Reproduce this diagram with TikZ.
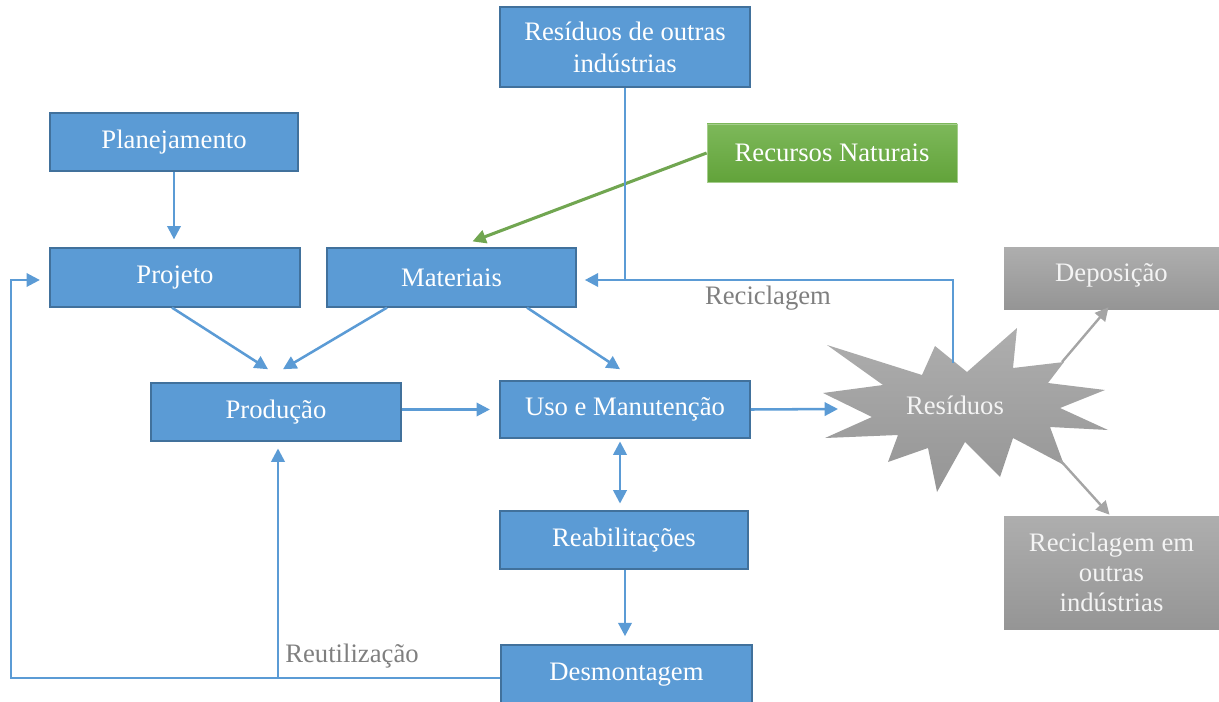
\documentclass[tikz,border=0pt]{standalone}
\usepackage{fontspec}
\setmainfont{Liberation Serif}
\usetikzlibrary{arrows.meta,calc}
\definecolor{bfill}{HTML}{5B9BD5}
\definecolor{bdraw}{HTML}{41719C}
\definecolor{gtop}{HTML}{7DB85A}
\definecolor{gbot}{HTML}{62A33A}
\definecolor{gytop}{HTML}{AEAEAE}
\definecolor{gybot}{HTML}{959595}
\definecolor{gyline}{HTML}{A5A5A5}
\definecolor{lbl}{HTML}{7F7F7F}
\definecolor{wtxt}{HTML}{F4F4F4}
\begin{document}
\begin{tikzpicture}[x=0.75pt,y=-0.75pt,
  txt/.style={font=\fontsize{20}{24}\selectfont, align=center},
  bluebox/.style={txt, fill=bfill, draw=bdraw, line width=1.2pt, text=white, inner sep=0pt},
  greenbox/.style={txt, top color=gtop, bottom color=gbot, draw=gtop!70!white, line width=0.6pt, text=white, inner sep=0pt},
  graybox/.style={txt, top color=gytop, bottom color=gybot, text=wtxt, inner sep=0pt},
  conn/.style={draw=bfill, line width=1.9pt, -{Triangle[length=10pt,width=10pt]}},
  gconn/.style={draw=gtop!90!black, line width=2.3pt, -{Triangle[length=10pt,width=10pt]}},
  yconn/.style={draw=gyline, line width=1.8pt, -{Triangle[length=10pt,width=10pt]}},
  lab/.style={font=\fontsize{20}{24}\selectfont, text=lbl, inner sep=0pt}
]
\useasboundingbox (0,0) rectangle (1219,702);
\clip (0,0) rectangle (1219,702);

% nodes
\node[bluebox, minimum width=187.5pt, minimum height=60pt] (rdo) at (625,47) {Resíduos de outras\\indústrias};
\node[bluebox, minimum width=186pt, minimum height=43.5pt] (plan) at (174,142) {Planejamento};
\node[greenbox, minimum width=187.5pt, minimum height=43.5pt] (rec) at (832,153) {Recursos Naturais};
\node[bluebox, minimum width=187.5pt, minimum height=44pt] (proj) at (175,277.5) {Projeto};
\node[bluebox, minimum width=186.75pt, minimum height=44pt] (mat) at (451.5,277.5) {Materiais};
\node[graybox, minimum width=161.25pt, minimum height=46.5pt, text depth=8pt] (dep) at (1111.5,278) {Deposição};
\node[bluebox, minimum width=187.5pt, minimum height=43.5pt] (prod) at (276,412) {Produção};
\node[bluebox, minimum width=187.5pt, minimum height=42.75pt] (uso) at (625,409.5) {Uso e Manutenção};
\node[bluebox, minimum width=186pt, minimum height=43.5pt] (reab) at (624,540) {Reabilitações};
\node[graybox, minimum width=161.25pt, minimum height=84.75pt, font=\fontsize{20}{22.5}\selectfont] (reco) at (1111.5,572.5) {Reciclagem em\\outras\\indústrias};
\node[bluebox, minimum width=188.25pt, minimum height=49.5pt, text depth=10pt] (desm) at (626.5,678) {Desmontagem};

% starburst
\shade[top color=gytop, bottom color=gybot]
  (827,345) -- (922,375) -- (935,346) -- (967,372) -- (1017,328) -- (1013,368)
  -- (1064,362) -- (1048,383) -- (1105,390) -- (1060,408) -- (1108,430)
  -- (1050,427) -- (1064,465) -- (1013,438) -- (1000,477) -- (965,442)
  -- (937,492) -- (928,448) -- (888,462) -- (898,435) -- (825,438)
  -- (872,417) -- (823,393) -- (883,385) -- cycle;
\node[txt, text=wtxt, inner sep=0pt] (res) at (955,405) {Resíduos};
\coordinate (rtop) at (953,363);
\coordinate (rin) at (838,409);
\coordinate (rne) at (1062,362);
\coordinate (rse) at (1060,460);
\coordinate (reabout) at ($(reab.south)+(1,0)$);
\coordinate (desmin) at (reabout |- desm.north);
\coordinate (prodin) at ($(prod.south)+(2,0)$);
\coordinate (branch) at (prodin |- desm.west);
\coordinate (loopc) at ($(proj.west)+(-38,2.5)$);
\coordinate (projin) at ($(proj.west)+(0,2.5)$);
\coordinate (rdoj) at (rdo.south |- projin);

% connectors
\draw[conn, shorten >=6pt] (plan.south) -- (plan.south |- proj.north);
\draw[gconn, shorten >=2pt] (rec.west) -- ($(mat.north)+(18.5,-5)$);
\draw[draw=bfill, line width=1.9pt] (rdo.south) -- (rdoj);
\draw[conn, shorten >=6pt] (rtop) |- ($(mat.east)+(0,2.5)$);
\node[lab, anchor=center] (lrec) at (768,298) {Reciclagem};
\draw[conn] ($(proj.south)+(-3,0)$) -- ($(prod.north)+(-8,-13)$);
\draw[conn] ($(mat.south)+(-64.5,0)$) -- ($(prod.north)+(7,-13)$);
\draw[conn] ($(mat.south)+(75.5,0)$) -- ($(uso.north)+(-5,-11)$);
\draw[conn, shorten >=7pt] (uso.west -| prod.east) -- (uso.west);
\draw[conn] (uso.east) -- (rin);
\draw[conn, {Triangle[length=10pt,width=10pt]}-{Triangle[length=10pt,width=10pt]}, shorten <=2pt, shorten >=5pt] ($(uso.south)+(-5,0)$) -- ($(reab.north)+(-4,0)$);
\draw[conn, shorten >=6pt] (reabout) -- (desmin);
\draw[conn, shorten >=7pt] (desm.west) -| (loopc) -- (projin);
\draw[conn, shorten >=5pt] (branch) -- (prodin);
\node[lab] (lreu) at (352,656) {Reutilização};
\draw[yconn] (rne) -- ($(dep.south)+(-3,-2)$);
\draw[yconn] (rse) -- ($(reco.north)+(-2,-1)$);
\end{tikzpicture}
\end{document}
